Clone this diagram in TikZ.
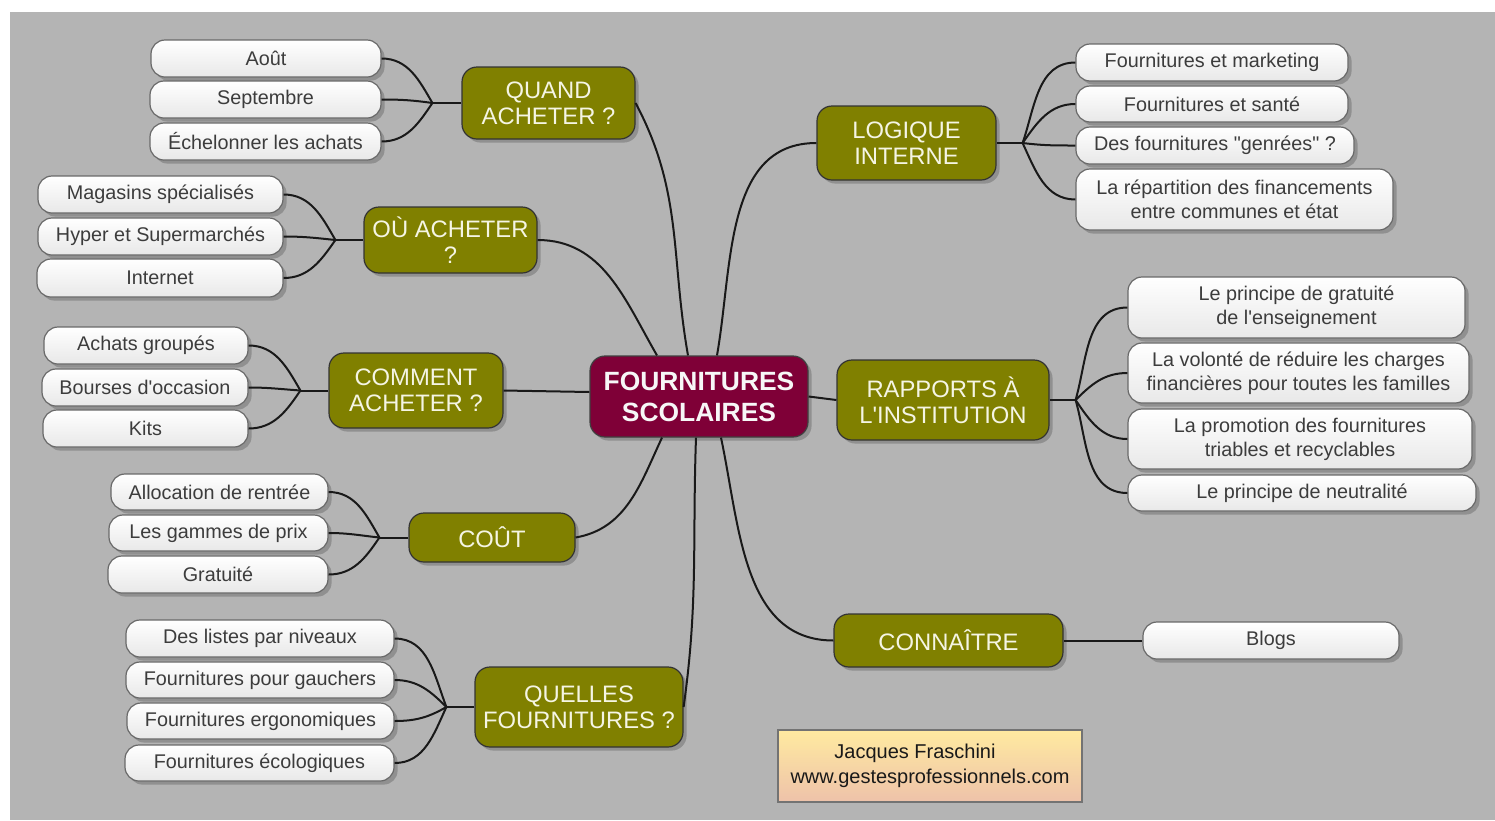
\documentclass[tikz,border=0pt]{standalone}
\usepackage{fontspec}
\setmainfont{Liberation Sans}[Ligatures=TeXOff]
\usetikzlibrary{shadows,calc}
\definecolor{bgray}{RGB}{180,180,180}
\definecolor{mmolive}{RGB}{128,128,0}
\definecolor{mmroot}{RGB}{127,0,55}
\definecolor{leafborder}{RGB}{105,105,105}
\definecolor{leaftext}{RGB}{60,60,60}
\definecolor{maintext}{RGB}{245,245,228}
\definecolor{creditTop}{RGB}{255,234,160}
\definecolor{creditBot}{RGB}{238,194,170}
\tikzset{
  shad/.style={drop shadow={shadow xshift=1.8pt, shadow yshift=-1.8pt, fill=black, opacity=0.2}},
  leaf/.style={shad, draw=leafborder, line width=0.6pt, rounded corners=7pt, top color=white, bottom color=black!9, inner sep=0pt, align=center, text=leaftext, font=\fontsize{9.9}{12}\selectfont},
  topic/.style={shad, draw=black!80, line width=0.6pt, rounded corners=7.5pt, fill=mmolive, inner sep=0pt, align=center, text=maintext, font=\fontsize{11.9}{13}\selectfont},
  root/.style={shad, draw=black!75, line width=0.6pt, rounded corners=7.5pt, fill=mmroot, inner sep=0pt, align=center, text=white!94!gray, font=\bfseries\fontsize{13.2}{15.5}\selectfont},
  creditbox/.style={draw=black!55, line width=0.6pt, top color=creditTop, bottom color=creditBot, inner sep=0pt, align=center, text=black!90, font=\fontsize{10}{12.5}\selectfont},
  link/.style={draw=black!90, line width=1pt},
}
\newcommand\mkbox[7]{\node[#6, minimum width={(#4-#2)*0.5pt}, minimum height={(#5-#3)*0.5pt}] (#1) at ({(#2+#4)/2},{-(#3+#5)/2}) {#7};}
\begin{document}
\begin{tikzpicture}[x=0.5pt,y=0.5pt]
\useasboundingbox (0,0) rectangle (1495,-820);
\fill[bgray] (10,-12) rectangle (1495,-820);
% root and topics
\mkbox{C}{590}{356}{808}{437}{root}{FOURNITURES\\SCOLAIRES}
\mkbox{Q}{462}{67}{635}{139}{topic}{QUAND\\ACHETER ?}
\mkbox{O}{364}{207}{537}{273}{topic}{OÙ ACHETER\\?}
\mkbox{CM}{329}{353}{503}{428}{topic}{COMMENT\\ACHETER ?}
\mkbox{CT}{409}{513}{575}{562}{topic}{COÛT}
\mkbox{QF}{475}{667}{683}{747}{topic}{QUELLES\\FOURNITURES ?}
\mkbox{L}{817}{106}{996}{180}{topic}{LOGIQUE\\INTERNE}
\mkbox{R}{837}{360}{1049}{440}{topic}{RAPPORTS À\\L'INSTITUTION}
\mkbox{CN}{834}{614}{1063}{667}{topic}{CONNAÎTRE}
% leaves
\mkbox{q1}{151}{40}{381}{77}{leaf}{Août}
\mkbox{q2}{150}{81}{381}{118}{leaf}{Septembre}
\mkbox{q3}{150}{123}{381}{160}{leaf}{Échelonner les achats}
\mkbox{o1}{38}{176}{283}{213}{leaf}{Magasins spécialisés}
\mkbox{o2}{38}{218}{283}{255}{leaf}{Hyper et Supermarchés}
\mkbox{o3}{37}{259}{283}{297}{leaf}{Internet}
\mkbox{m1}{44}{327}{248}{364}{leaf}{Achats groupés}
\mkbox{m2}{42}{369}{248}{406}{leaf}{Bourses d'occasion}
\mkbox{m3}{43}{410}{248}{447}{leaf}{Kits}
\mkbox{c1}{111}{474}{328}{510}{leaf}{Allocation de rentrée}
\mkbox{c2}{109}{515}{328}{551}{leaf}{Les gammes de prix}
\mkbox{c3}{108}{556}{328}{593}{leaf}{Gratuité}
\mkbox{f1}{126}{620}{394}{657}{leaf}{Des listes par niveaux}
\mkbox{f2}{126}{662}{394}{698}{leaf}{Fournitures pour gauchers}
\mkbox{f3}{127}{703}{394}{739}{leaf}{Fournitures ergonomiques}
\mkbox{f4}{125}{745}{394}{781}{leaf}{Fournitures écologiques}
\mkbox{l1}{1076}{44}{1348}{81}{leaf}{Fournitures et marketing}
\mkbox{l2}{1076}{86}{1348}{122}{leaf}{Fournitures et santé}
\mkbox{l3}{1076}{127}{1354}{164}{leaf}{Des fournitures "genrées" ?}
\mkbox{l4}{1076}{169}{1393}{230}{leaf}{La répartition des financements\\entre communes et état}
\mkbox{r1}{1128}{277}{1465}{338}{leaf}{Le principe de gratuité\\de l'enseignement}
\mkbox{r2}{1128}{343}{1469}{403}{leaf}{La volonté de réduire les charges\\financières pour toutes les familles}
\mkbox{r3}{1128}{409}{1472}{469}{leaf}{La promotion des fournitures\\triables et recyclables}
\mkbox{r4}{1128}{475}{1476}{511}{leaf}{Le principe de neutralité}
\mkbox{b1}{1143}{622}{1399}{659}{leaf}{Blogs}
\mkbox{cr}{778}{730}{1082}{802}{creditbox}{Jacques Fraschini\hspace*{15pt}\\www.gestesprofessionnels.com}
% root connectors
\draw[link] (Q.east) to[out=-62,in=100] ([xshift=-5.5pt]C.north);
\draw[link] (O.east) to[out=0,in=120] ([xshift=-21pt]C.north);
\draw[link] ([xshift=9pt]C.north) to[out=80,in=180] (L.west);
\draw[link] (CM.east) -- ([yshift=2.25pt]C.west);
\draw[link] (C.east) -- (R.west);
\draw[link] (CT.east) to[out=10,in=-115] ([xshift=-18.5pt]C.south);
\draw[link] (QF.east) to[out=82,in=-92] ([xshift=-1.5pt]C.south);
\draw[link] ([xshift=11pt]C.south) to[out=-78,in=180] (CN.west);
\draw[link] (CN.east) -- (b1.west);
% junctions
\coordinate (jq) at ([xshift=-14.5pt]Q.west);
\coordinate (jo) at ([xshift=-14pt]O.west);
\coordinate (jm) at ([xshift=-14pt]CM.west);
\coordinate (jc) at ([xshift=-14.5pt]CT.west);
\coordinate (jf) at ([xshift=-14pt]QF.west);
\coordinate (jl) at ([xshift=13pt]L.east);
\coordinate (jr) at ([xshift=13pt]R.east);
\draw[link] (Q.west) -- (jq);
\draw[link] (O.west) -- (jo);
\draw[link] (CM.west) -- (jm);
\draw[link] (CT.west) -- (jc);
\draw[link] (QF.west) -- (jf);
\draw[link] (L.east) -- (jl);
\draw[link] (R.east) -- (jr);
% fans
\draw[link] (jq) to[out=120,in=0] (q1.east);
\draw[link] (jq) to[out=172,in=0] (q2.east);
\draw[link] (jq) to[out=236,in=0] (q3.east);
\draw[link] (jo) to[out=120,in=0] (o1.east);
\draw[link] (jo) to[out=174,in=0] (o2.east);
\draw[link] (jo) to[out=235,in=0] (o3.east);
\draw[link] (jm) to[out=120,in=0] (m1.east);
\draw[link] (jm) to[out=176,in=0] (m2.east);
\draw[link] (jm) to[out=236,in=0] (m3.east);
\draw[link] (jc) to[out=120,in=0] (c1.east);
\draw[link] (jc) to[out=174,in=0] (c2.east);
\draw[link] (jc) to[out=236,in=0] (c3.east);
\draw[link] (jf) to[out=111,in=0] (f1.east);
\draw[link] (jf) to[out=135,in=0] (f2.east);
\draw[link] (jf) to[out=210,in=0] (f3.east);
\draw[link] (jf) to[out=245,in=0] (f4.east);
\draw[link] (jl) to[out=71,in=180] (l1.west);
\draw[link] (jl) to[out=55,in=180] (l2.west);
\draw[link] (jl) to[out=-7,in=180] (l3.west);
\draw[link] (jl) to[out=-65,in=180] (l4.west);
\draw[link] (jr) to[out=74,in=180] (r1.west);
\draw[link] (jr) to[out=45,in=180] (r2.west);
\draw[link] (jr) to[out=-56,in=180] (r3.west);
\draw[link] (jr) to[out=-74,in=180] (r4.west);
\end{tikzpicture}
\end{document}
